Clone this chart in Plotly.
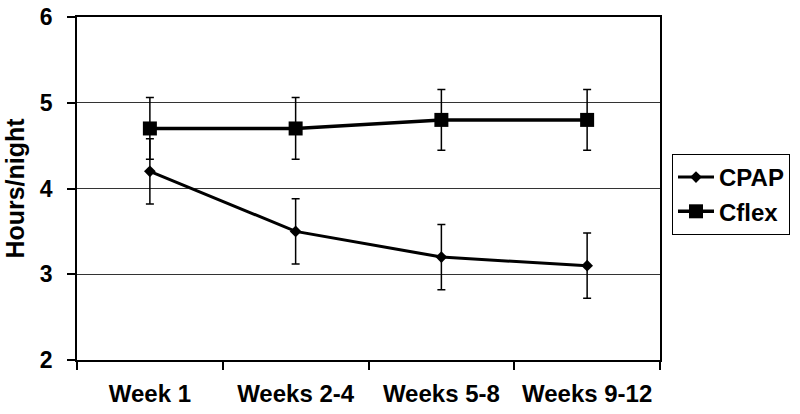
import plotly.graph_objects as go

categories = ["Week 1", "Weeks 2-4", "Weeks 5-8", "Weeks 9-12"]
cpap = [4.2, 3.5, 3.2, 3.1]
cpap_err = [0.38, 0.38, 0.38, 0.38]
cflex = [4.7, 4.7, 4.8, 4.8]
cflex_err = [0.36, 0.36, 0.355, 0.355]
y_ticks = [2, 3, 4, 5, 6]

FONT = "Liberation Sans, Arial, sans-serif"

fig = go.Figure()
fig.add_trace(go.Scatter(
    x=categories, y=cpap, name="CPAP", mode="lines+markers",
    line=dict(color="black", width=3),
    marker=dict(symbol="diamond", size=9, color="black"),
    error_y=dict(type="data", array=cpap_err, color="black", thickness=1.5, width=4),
))
fig.add_trace(go.Scatter(
    x=categories, y=cflex, name="Cflex", mode="lines+markers",
    line=dict(color="black", width=3.5),
    marker=dict(symbol="square", size=14, color="black"),
    error_y=dict(type="data", array=cflex_err, color="black", thickness=1.5, width=4),
))

fig.update_layout(
    width=800, height=414,
    margin=dict(l=77, r=140, t=17, b=54, autoexpand=False),
    paper_bgcolor="white", plot_bgcolor="white",
    font=dict(family=FONT, size=22, color="black", weight="bold"),
    showlegend=True,
    legend=dict(
        x=(672 - 77) / 583, y=(360 - 154) / 343, xanchor="left", yanchor="top",
        bordercolor="black", borderwidth=1, bgcolor="white",
        font=dict(family=FONT, size=24, color="black", weight="bold"),
        itemwidth=36, tracegroupgap=0,
    ),
)
fig.update_xaxes(
    type="category", range=[-0.5, 3.5], automargin=False,
    showline=True, linecolor="black", linewidth=1.5, mirror=True,
    ticks="outside", ticklen=8, tickcolor="black", tickwidth=1.5,
    tickson="boundaries", showgrid=False,
    tickfont=dict(family=FONT, size=24, color="black", weight="bold"),
    ticklabelstandoff=11, ticklabeloverflow="allow",
)
fig.update_yaxes(
    range=[2, 6], tickvals=y_ticks, automargin=False,
    showline=True, linecolor="black", linewidth=1.5, mirror=True,
    ticks="outside", ticklen=8, tickcolor="black", tickwidth=1.5,
    showgrid=True, gridcolor="#333333", gridwidth=1, zeroline=False,
    tickfont=dict(family=FONT, size=23, color="black", weight="bold"),
    ticklabelstandoff=10, ticklabeloverflow="allow",
    title=dict(text="Hours/night", standoff=8,
               font=dict(family=FONT, size=25, color="black", weight="bold")),
)

fig.write_html(
    "out.html",
    config={"displayModeBar": False},
    post_script="document.body.style.margin='0';document.body.style.overflow='hidden';",
)
